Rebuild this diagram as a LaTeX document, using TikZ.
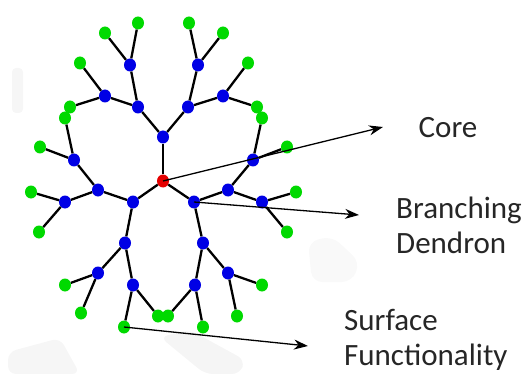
\documentclass[tikz,border=0pt]{standalone}
\usepackage{fontspec}
\setmainfont{Carlito}
\usetikzlibrary{arrows.meta,shapes.geometric}
\begin{document}
\begin{tikzpicture}[x=1pt,y=-1pt,
    dot/.style={ellipse,inner sep=0,minimum width=12pt,minimum height=13pt},
    bluedot/.style={dot,fill=blue!90!black},
    greendot/.style={dot,fill=green!85!black},
    bond/.style={line width=2.3pt},
    pointer/.style={line width=1.3pt,-{Stealth[length=14pt,width=10pt]}},
    label/.style={font=\fontsize{31}{35}\selectfont,text=black!85,align=left,inner sep=0}]
  \useasboundingbox (0,0) rectangle (524,374);
  % faint watermark
  \fill[gray!7,rounded corners=4pt] (12,68) rectangle (23,113);
  \fill[gray!8,rounded corners=8pt] (160,337) -- (190,330) -- (245,360) -- (240,374) -- (205,374) -- cycle;
  \fill[gray!7,rounded corners=8pt] (8,352) -- (60,338) -- (80,374) -- (8,374) -- cycle;
  \fill[gray!5,rounded corners=10pt] (308,242) -- (332,236) -- (360,262) -- (352,282) -- (312,282) -- cycle;

  % core and dendrons
  \node[dot,fill=red!90!black] (c) at (163,181) {};
  \node[bluedot] (t) at (163,137) {};
  \node[bluedot] (tl) at (138,107) {};
  \node[bluedot] (tr) at (188,107) {};
  \node[bluedot] (tla) at (130,65) {};
  \node[bluedot] (tlb) at (105,96) {};
  \node[bluedot] (tra) at (198,65) {};
  \node[bluedot] (trb) at (223,96) {};
  \node[bluedot] (l) at (133,202) {};
  \node[bluedot] (la) at (98,190) {};
  \node[bluedot] (lb) at (125,243) {};
  \node[bluedot] (laa) at (74,160) {};
  \node[bluedot] (lab) at (65,202) {};
  \node[bluedot] (lba) at (98,273) {};
  \node[bluedot] (lbb) at (133,285) {};
  \node[bluedot] (r) at (194,202) {};
  \node[bluedot] (ra) at (228,190) {};
  \node[bluedot] (rb) at (203,243) {};
  \node[bluedot] (raa) at (253,160) {};
  \node[bluedot] (rab) at (262,202) {};
  \node[bluedot] (rba) at (228,273) {};
  \node[bluedot] (rbb) at (195,285) {};

  \foreach \a/\b in {c/t,t/tl,t/tr,tl/tla,tl/tlb,tr/tra,tr/trb,
                     c/l,l/la,l/lb,la/laa,la/lab,lb/lba,lb/lbb,
                     c/r,r/ra,r/rb,ra/raa,ra/rab,rb/rba,rb/rbb}
    \draw[bond] (\a) -- (\b);

  % surface groups
  \foreach \p/\x/\y/\i in {tla/105/33/1,tla/138/23/2,tlb/80/63/1,tlb/70/107/2,
                           tra/189/23/1,tra/223/33/2,trb/248/63/1,trb/257/107/2,
                           laa/40/147/1,laa/65/118/2,lab/31/192/1,lab/39/232/2,
                           lba/65/285/1,lba/81/313/2,lbb/124/327/1,lbb/158/316/2,
                           raa/287/147/1,raa/262/118/2,rab/296/192/1,rab/287/232/2,
                           rba/262/285/1,rba/237/316/2,rbb/203/327/1,rbb/168/316/2}
  {
    \node[greendot] (\p\i) at (\x,\y) {};
    \draw[bond] (\p) -- (\p\i);
  }

  % labels
  \node[label,anchor=center] (core) at (448,128) {Core};
  \node[label,anchor=west] (branch) at (396,225) {Branching\\Dendron};
  \node[label,anchor=west] (surf) at (344,340) {Surface\\Functionality};
  \coordinate (coretip) at (383,127);
  \coordinate (branchtip) at (359,215);
  \coordinate (surftip) at (308,346);
  \draw[pointer] (c.center) -- (coretip);
  \draw[pointer] (r.center) -- (branchtip);
  \draw[pointer] (lbb1.center) -- (surftip);
\end{tikzpicture}
\end{document}
